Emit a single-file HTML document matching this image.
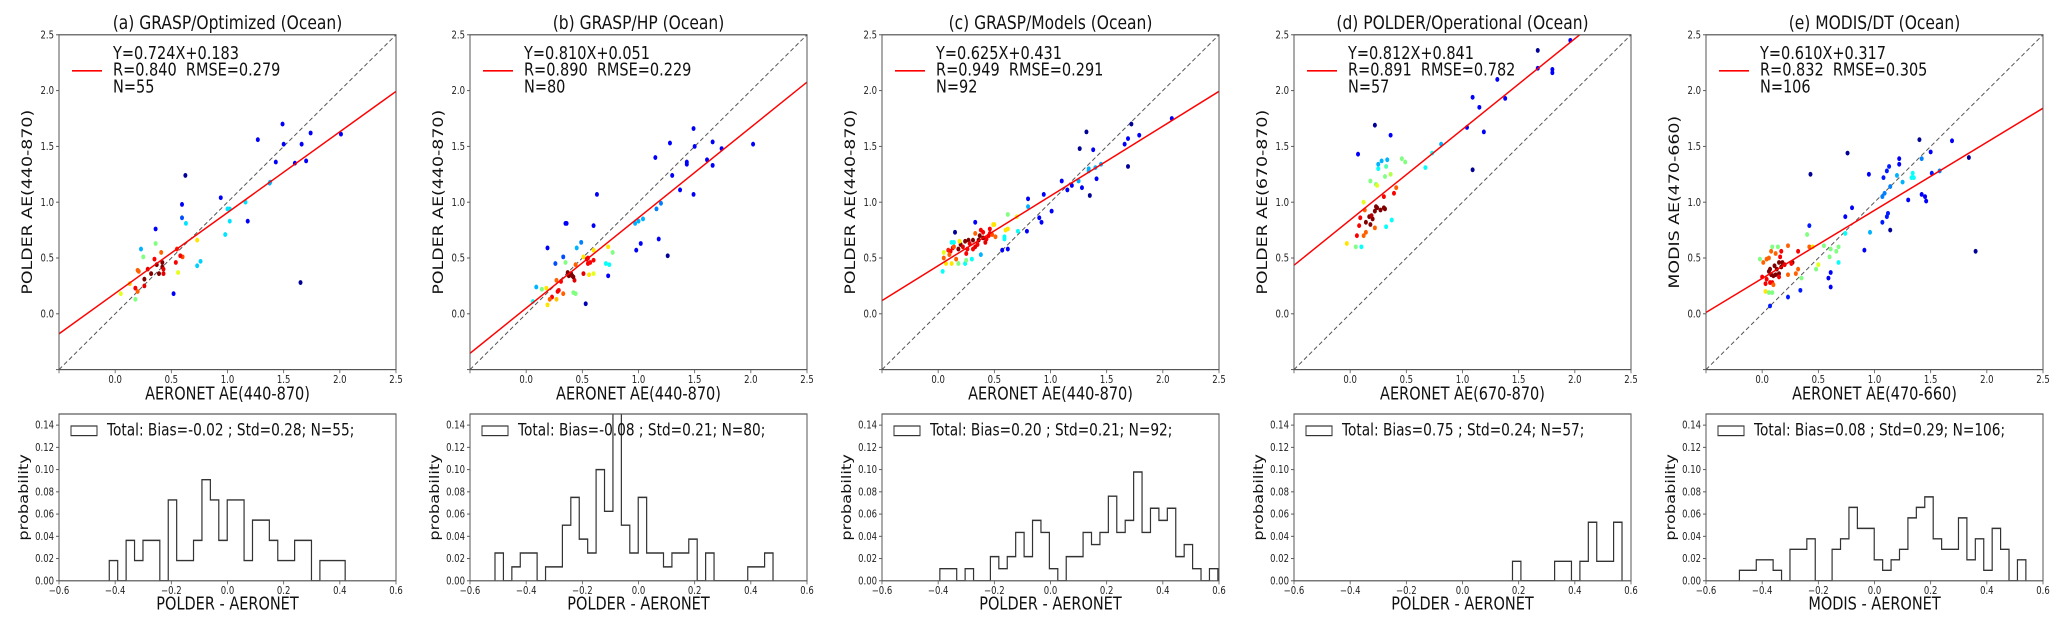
<!DOCTYPE html>
<html><head><meta charset="utf-8"><style>
html,body{margin:0;padding:0;background:#fff;}
svg{display:block;font-family:"DejaVu Sans","Liberation Sans",sans-serif;}
text{white-space:pre;}
</style></head><body>
<svg id="fig" width="2067" height="628" viewBox="0 0 2067 628" xmlns="http://www.w3.org/2000/svg"><g id="root" transform="scale(1,1.2)"></g></svg>
<script>
// ---------- data ----------
const panelTitles=["(a) GRASP/Optimized (Ocean)","(b) GRASP/HP (Ocean)","(c) GRASP/Models (Ocean)","(d) POLDER/Operational (Ocean)","(e) MODIS/DT (Ocean)"];
const xLabels=["AERONET AE(440-870)","AERONET AE(440-870)","AERONET AE(440-870)","AERONET AE(670-870)","AERONET AE(470-660)"];
const yLabels=["POLDER AE(440-870)","POLDER AE(440-870)","POLDER AE(440-870)","POLDER AE(670-870)","MODIS AE(470-660)"];
const histXLabels=["POLDER - AERONET","POLDER - AERONET","POLDER - AERONET","POLDER - AERONET","MODIS - AERONET"];
const slopes=[0.724,0.810,0.625,0.812,0.610];
const intercepts=[0.183,0.051,0.431,0.841,0.317];
const statR=["0.840","0.890","0.949","0.891","0.832"];
const statRMSE=["0.279","0.229","0.291","0.782","0.305"];
const statN=[55,80,92,57,106];
const histBias=["-0.02","-0.08","0.20","0.75","0.08"];
const histStd=["0.28","0.21","0.21","0.24","0.29"];
const scatterTicks=[0.0,0.5,1.0,1.5,2.0,2.5];
const histYTicks=[0.00,0.02,0.04,0.06,0.08,0.10,0.12,0.14];
const histXTicks=[-0.6,-0.4,-0.2,0.0,0.2,0.4,0.6];
const binWidth=0.03;
const histStarts=[-0.421,-0.511,-0.394,0.178,-0.481];
const histCountsA=[1,0,2,1,2,2,0,4,1,1,2,5,4,2,4,4,1,3,3,2,1,1,2,2,0,1,1,1];
const histCountsB=[2,0,1,2,2,0,1,1,4,6,3,2,8,5,13,4,2,6,2,2,1,2,2,3,0,2,0,0,0,0,1,1,2];
const histCountsC=[1,1,0,1,0,0,2,1,2,4,2,5,4,1,0,2,2,4,3,4,7,4,5,9,4,6,5,6,2,3,1,0,1];
const histCountsD=[1,0,0,0,0,1,1,0,1,3,1,1,3];
const histCountsE=[1,1,2,2,1,0,3,3,4,0,0,3,4,7,5,5,2,1,2,3,6,7,8,4,3,3,6,2,4,1,5,3,0,2];
// [x, y, colour (0=navy .. 1=darkred, jet)]
const scatterA=[[1.49,1.70,0.12],[1.27,1.56,0.12],[1.50,1.52,0.12],[1.66,1.52,0.12],[1.74,1.62,0.12],[2.01,1.61,0.12],[1.43,1.36,0.12],[1.60,1.35,0.12],[1.70,1.37,0.12],[1.375,1.17,0.3],[0.625,1.24,0.02],[0.94,1.04,0.12],[0.595,0.98,0.12],[0.595,0.86,0.2],[0.36,0.76,0.12],[1.0,0.94,0.35],[1.16,1.0,0.35],[1.02,0.83,0.35],[1.18,0.83,0.12],[0.98,0.71,0.35],[0.63,0.81,0.35],[1.65,0.28,0.02],[0.52,0.18,0.12],[0.73,0.43,0.33],[0.76,0.47,0.33],[0.73,0.66,0.65],[0.23,0.58,0.3],[0.36,0.63,0.5],[0.25,0.51,0.5],[0.56,0.37,0.6],[0.41,0.55,0.78],[0.35,0.49,0.88],[0.60,0.51,0.8],[0.58,0.52,0.88],[0.54,0.46,0.88],[0.37,0.44,1.0],[0.42,0.46,1.0],[0.42,0.42,1.0],[0.43,0.40,0.9],[0.43,0.36,0.9],[0.39,0.36,1.0],[0.32,0.36,1.0],[0.29,0.40,0.9],[0.26,0.31,1.0],[0.26,0.25,0.9],[0.21,0.38,0.78],[0.20,0.39,0.78],[0.18,0.23,0.88],[0.20,0.20,0.78],[0.13,0.27,0.68],[0.05,0.18,0.6],[0.18,0.13,0.5],[0.55,0.58,0.85],[1.02,0.94,0.35],[1.38,1.18,0.3]];
const scatterB=[[1.49,1.66,0.12],[1.28,1.53,0.12],[1.50,1.50,0.12],[1.66,1.54,0.12],[1.74,1.48,0.12],[2.02,1.52,0.12],[1.15,1.40,0.12],[1.43,1.36,0.12],[1.43,1.34,0.12],[1.61,1.38,0.12],[1.66,1.33,0.12],[1.30,1.24,0.12],[1.37,1.11,0.12],[1.49,1.07,0.12],[0.63,1.07,0.12],[1.20,0.99,0.25],[1.16,0.94,0.25],[1.04,0.85,0.3],[1.0,0.83,0.3],[0.97,0.81,0.3],[0.60,0.79,0.12],[0.35,0.81,0.12],[0.36,0.81,0.12],[0.19,0.59,0.12],[1.18,0.67,0.12],[1.02,0.63,0.12],[0.98,0.57,0.12],[1.26,0.52,0.02],[0.49,0.64,0.25],[0.45,0.59,0.3],[0.33,0.51,0.2],[0.26,0.45,0.2],[0.35,0.46,0.5],[0.60,0.57,0.65],[0.73,0.60,0.65],[0.77,0.55,0.5],[0.71,0.45,0.38],[0.74,0.44,0.38],[0.73,0.34,0.12],[0.53,0.09,0.05],[0.60,0.36,0.6],[0.56,0.35,0.65],[0.51,0.36,0.9],[0.60,0.48,0.88],[0.55,0.45,0.88],[0.57,0.46,0.88],[0.55,0.50,0.88],[0.51,0.51,0.65],[0.44,0.44,0.78],[0.39,0.35,1.0],[0.41,0.34,1.0],[0.43,0.30,0.9],[0.38,0.34,1.0],[0.40,0.36,1.0],[0.37,0.37,1.0],[0.31,0.29,0.88],[0.27,0.30,0.78],[0.28,0.20,0.88],[0.29,0.21,0.88],[0.33,0.18,0.78],[0.23,0.15,0.88],[0.21,0.13,0.78],[0.27,0.13,0.68],[0.19,0.08,0.65],[0.18,0.23,0.65],[0.14,0.22,0.5],[0.09,0.24,0.3],[0.06,0.11,0.38],[0.42,0.19,0.5],[0.44,0.18,0.5],[0.54,0.49,0.9],[0.42,0.33,1.0]];
const scatterC=[[1.32,1.63,0.02],[1.26,1.48,0.02],[1.38,1.47,0.12],[1.72,1.70,0.02],[1.69,1.57,0.12],[1.66,1.52,0.12],[1.79,1.60,0.12],[2.08,1.75,0.12],[1.69,1.32,0.02],[1.45,1.34,0.3],[1.40,1.31,0.3],[1.34,1.30,0.3],[1.34,1.28,0.3],[1.41,1.21,0.12],[1.25,1.19,0.3],[1.19,1.15,0.12],[1.15,1.11,0.12],[1.10,1.19,0.12],[1.28,1.13,0.12],[1.35,1.06,0.02],[0.94,1.07,0.12],[0.80,1.03,0.12],[1.01,0.92,0.12],[0.80,0.96,0.3],[0.90,0.86,0.12],[0.92,0.82,0.12],[0.79,0.74,0.12],[0.71,0.74,0.38],[0.62,0.89,0.5],[0.70,0.87,0.6],[0.62,0.76,0.65],[0.60,0.75,0.65],[0.59,0.69,0.38],[0.59,0.67,0.38],[0.57,0.57,0.12],[0.62,0.58,0.12],[0.33,0.82,0.12],[0.15,0.73,0.02],[0.38,0.53,0.3],[0.49,0.80,0.65],[0.50,0.80,0.65],[0.51,0.69,0.78],[0.46,0.76,0.88],[0.46,0.72,0.88],[0.43,0.67,0.88],[0.38,0.75,0.88],[0.37,0.70,1.0],[0.40,0.68,1.0],[0.36,0.66,1.0],[0.33,0.72,0.78],[0.31,0.66,1.0],[0.31,0.58,0.88],[0.27,0.66,1.0],[0.24,0.65,1.0],[0.25,0.54,0.88],[0.20,0.62,1.0],[0.18,0.58,1.0],[0.13,0.59,0.88],[0.11,0.56,0.88],[0.12,0.64,0.38],[0.14,0.64,0.38],[0.19,0.65,0.65],[0.10,0.53,0.78],[0.05,0.50,0.78],[0.05,0.55,0.6],[0.07,0.45,0.65],[0.12,0.45,0.65],[0.16,0.49,0.78],[0.24,0.45,0.38],[0.25,0.48,0.5],[0.18,0.45,0.5],[0.30,0.49,0.38],[0.04,0.38,0.38],[0.28,0.63,0.9],[0.35,0.62,0.88],[0.42,0.64,0.9],[0.45,0.70,0.88],[0.22,0.60,0.9],[0.26,0.58,0.88],[0.33,0.60,0.9],[0.09,0.57,0.85],[0.14,0.60,0.8],[0.40,0.73,0.88],[0.48,0.71,0.8]];
const scatterD=[[1.96,2.45,0.12],[1.67,2.36,0.02],[1.67,2.20,0.12],[1.80,2.19,0.12],[1.80,2.16,0.12],[1.31,2.10,0.12],[1.09,1.94,0.12],[1.38,1.93,0.12],[1.15,1.85,0.12],[1.04,1.67,0.12],[1.19,1.63,0.12],[1.09,1.29,0.02],[0.22,1.69,0.02],[0.36,1.60,0.12],[0.07,1.43,0.12],[0.81,1.52,0.3],[0.73,1.44,0.38],[0.67,1.31,0.38],[0.46,1.39,0.5],[0.49,1.36,0.5],[0.33,1.38,0.3],[0.28,1.37,0.3],[0.25,1.34,0.3],[0.25,1.30,0.38],[0.32,1.32,0.45],[0.31,1.23,0.5],[0.36,1.25,0.55],[0.18,1.19,0.5],[0.23,1.16,0.5],[0.24,1.15,0.6],[0.41,1.13,0.78],[0.39,1.08,0.88],[0.30,1.05,0.88],[0.12,1.0,0.6],[0.13,0.93,0.78],[0.24,0.95,1.0],[0.22,0.92,1.0],[0.30,0.95,1.0],[0.31,0.94,1.0],[0.17,0.87,1.0],[0.20,0.85,1.0],[0.09,0.86,0.88],[0.14,0.82,1.0],[0.18,0.80,1.0],[0.08,0.79,0.88],[0.37,0.84,0.38],[0.32,0.78,0.38],[0.22,0.77,0.78],[0.14,0.73,0.78],[0.12,0.70,0.78],[0.06,0.70,0.88],[-0.03,0.63,0.65],[0.05,0.60,0.5],[0.10,0.60,0.38],[0.23,0.96,1.0],[0.19,0.88,0.95],[0.27,0.93,1.0]];
const scatterE=[[1.40,1.56,0.02],[1.69,1.55,0.12],[1.50,1.45,0.12],[1.42,1.39,0.25],[1.84,1.40,0.02],[0.76,1.44,0.02],[0.43,1.25,0.02],[0.95,1.25,0.12],[1.22,1.39,0.12],[1.22,1.34,0.12],[1.13,1.32,0.15],[1.11,1.28,0.15],[1.08,1.22,0.15],[1.20,1.24,0.3],[1.25,1.18,0.3],[1.33,1.22,0.38],[1.34,1.26,0.38],[1.35,1.22,0.38],[1.51,1.26,0.15],[1.58,1.28,0.25],[1.14,1.14,0.25],[1.09,1.08,0.25],[1.07,1.05,0.25],[1.30,1.02,0.12],[1.42,1.07,0.12],[1.45,1.05,0.12],[1.46,1.01,0.12],[0.80,0.95,0.12],[0.74,0.87,0.12],[1.12,0.90,0.15],[1.11,0.87,0.15],[1.07,0.82,0.15],[1.14,0.75,0.02],[0.96,0.73,0.3],[0.74,0.72,0.38],[0.91,0.57,0.12],[1.90,0.56,0.02],[0.42,0.79,0.15],[0.68,0.46,0.38],[0.66,0.56,0.5],[0.68,0.60,0.5],[0.61,0.58,0.5],[0.60,0.51,0.5],[0.61,0.37,0.12],[0.59,0.32,0.12],[0.61,0.24,0.12],[0.34,0.21,0.15],[0.23,0.15,0.15],[0.07,0.07,0.15],[0.55,0.61,0.5],[0.50,0.44,0.6],[0.48,0.40,0.5],[0.35,0.32,0.5],[0.40,0.71,0.5],[0.42,0.60,0.78],[0.45,0.60,0.65],[0.32,0.56,0.88],[0.23,0.61,0.78],[0.32,0.40,0.78],[0.30,0.36,0.78],[0.27,0.46,1.0],[0.26,0.45,0.88],[0.23,0.35,0.78],[0.18,0.46,1.0],[0.15,0.46,1.0],[0.16,0.51,0.88],[0.17,0.56,0.88],[0.14,0.60,0.5],[0.09,0.60,0.5],[0.12,0.54,0.78],[0.08,0.56,0.78],[0.06,0.50,0.78],[0.04,0.49,0.78],[0.01,0.46,0.78],[-0.02,0.49,0.5],[0.07,0.40,1.0],[0.06,0.38,1.0],[0.13,0.40,1.0],[0.15,0.36,1.0],[0.12,0.35,1.0],[0.15,0.33,0.88],[0.10,0.34,1.0],[0.08,0.35,1.0],[0.04,0.31,0.88],[0.00,0.33,0.88],[0.03,0.27,0.88],[0.07,0.28,0.88],[0.09,0.28,0.88],[0.10,0.26,0.78],[0.03,0.20,0.65],[0.06,0.19,0.5],[0.09,0.19,0.5],[0.17,0.42,1.0],[0.20,0.44,0.9],[0.11,0.43,1.0]];

const scatterSets=[scatterA,scatterB,scatterC,scatterD,scatterE];
const histSets=[histCountsA,histCountsB,histCountsC,histCountsD,histCountsE];

// ---------- layout (drawn in a 523-high space, stretched 1.2x vertically) ----------
const panelLefts=[59,470,882,1294,1706];
const AX_W=337, SC_TOP=29, SC_BOT=308, H_TOP=345, H_BOT=484;
const NS="http://www.w3.org/2000/svg";
const svg=document.getElementById('root');
function mk(tag,attrs,parent){const e=document.createElementNS(NS,tag);for(const k in attrs)e.setAttribute(k,attrs[k]);(parent||svg).appendChild(e);return e;}
function jet(c){const cl=v=>Math.max(0,Math.min(1,v));return `rgb(${Math.round(255*cl(1.5-Math.abs(4*c-3)))},${Math.round(255*cl(1.5-Math.abs(4*c-2)))},${Math.round(255*cl(1.5-Math.abs(4*c-1)))})`;}
const AXC="#555";

panelLefts.forEach((L,i)=>{
  const g=mk('g',{});
  
  
  const sx=v=>L+(v+0.5)/3*AX_W;
  const sy=v=>SC_BOT-(v+0.5)/3*(SC_BOT-SC_TOP);
  const clipId='clipS'+i;
  const cp=mk('clipPath',{id:clipId},g);mk('rect',{x:L,y:SC_TOP,width:AX_W,height:SC_BOT-SC_TOP},cp);

  const t=mk('text',{x:L+AX_W/2,y:24,'text-anchor':'middle','font-size':15.5,fill:'#111'},g);t.textContent=panelTitles[i];
  

  const oneone=mk('line',{x1:sx(-0.5),y1:sy(-0.5),x2:sx(2.5),y2:sy(2.5),stroke:'#555','stroke-width':0.9,'stroke-dasharray':'4,2.5','clip-path':`url(#${clipId})`},g);
  
  scatterSets[i].forEach(p=>{
    const c=mk('circle',{cx:sx(p[0]),cy:sy(p[1]),r:2,fill:jet(p[2]),'clip-path':`url(#${clipId})`},g);
    
    
  });
  const rl=mk('line',{x1:sx(-0.5),y1:sy(slopes[i]*-0.5+intercepts[i]),x2:sx(2.5),y2:sy(slopes[i]*2.5+intercepts[i]),stroke:'#f00','stroke-width':1.3,'clip-path':`url(#${clipId})`},g);
  
  const fr=mk('rect',{x:L,y:SC_TOP,width:AX_W,height:SC_BOT-SC_TOP,fill:'none',stroke:AXC,'stroke-width':1},g);
  
  [-0.5].concat(scatterTicks).forEach(v=>{
    mk('line',{x1:sx(v),y1:SC_BOT,x2:sx(v),y2:SC_BOT+3,stroke:AXC,'stroke-width':0.8},g);
    mk('line',{x1:L,y1:sy(v),x2:L-3,y2:sy(v),stroke:AXC,'stroke-width':0.8},g);
  });
  scatterTicks.forEach(v=>{
    const a=mk('text',{x:sx(v),y:SC_BOT+11,'text-anchor':'middle','font-size':8.5,fill:'#222'},g);a.textContent=v.toFixed(1);
    
    const b=mk('text',{x:L-5,y:sy(v)+3,'text-anchor':'end','font-size':8.5,fill:'#222'},g);b.textContent=v.toFixed(1);
    
  });
  const xl=mk('text',{x:L+AX_W/2,y:333,'text-anchor':'middle','font-size':14.5,fill:'#111'},g);xl.textContent=xLabels[i];
  
  const yl=mk('text',{x:0,y:0,'text-anchor':'middle','font-size':14.5,fill:'#111',transform:`translate(${L-27},${(SC_TOP+SC_BOT)/2}) rotate(-90)`},g);yl.textContent=yLabels[i];
  
  const ll=mk('line',{x1:L+13,y1:59,x2:L+43,y2:59,stroke:'#f00','stroke-width':1.3},g);
  
  const lines=[`Y=${slopes[i].toFixed(3)}X+${intercepts[i].toFixed(3)}`,`R=${statR[i]}  RMSE=${statRMSE[i]}`,`N=${statN[i]}`];
  lines.forEach((s,k)=>{const tx=mk('text',{x:L+54,y:49+k*14,'font-size':14.5,fill:'#111','xml:space':'preserve'},g);tx.textContent=s;
    });

  // ---------- histogram ----------
  const hx=v=>L+(v+0.6)/1.2*AX_W;
  const hy=v=>H_BOT-v/0.15*(H_BOT-H_TOP);
  const cpH='clipH'+i;
  const cp2=mk('clipPath',{id:cpH},g);mk('rect',{x:L,y:H_TOP,width:AX_W,height:H_BOT-H_TOP},cp2);
  const counts=histSets[i],N=statN[i],x0=histStarts[i];
  let d=`M${hx(x0)},${hy(0)}`;
  counts.forEach((c,k)=>{const p=c/N;d+=` L${hx(x0+k*binWidth)},${hy(p)} L${hx(x0+(k+1)*binWidth)},${hy(p)}`;});
  d+=` L${hx(x0+counts.length*binWidth)},${hy(0)}`;
  const hp=mk('path',{d:d,fill:'none',stroke:'#333','stroke-width':1.2,'clip-path':`url(#${cpH})`},g);
  
  const hf=mk('rect',{x:L,y:H_TOP,width:AX_W,height:H_BOT-H_TOP,fill:'none',stroke:AXC,'stroke-width':1},g);
  
  histYTicks.forEach(v=>{
    mk('line',{x1:L,y1:hy(v),x2:L-3,y2:hy(v),stroke:AXC,'stroke-width':0.8},g);
    const a=mk('text',{x:L-5,y:hy(v)+3,'text-anchor':'end','font-size':8.5,fill:'#222'},g);a.textContent=v.toFixed(2);
    
  });
  histXTicks.forEach(v=>{
    mk('line',{x1:hx(v),y1:H_BOT,x2:hx(v),y2:H_BOT+3,stroke:AXC,'stroke-width':0.8},g);
    const a=mk('text',{x:hx(v),y:H_BOT+11,'text-anchor':'middle','font-size':8.5,fill:'#222'},g);a.textContent=(v<0?'\u2212':'')+Math.abs(v).toFixed(1);
    
  });
  const hxl=mk('text',{x:L+AX_W/2,y:508,'text-anchor':'middle','font-size':14.5,fill:'#111'},g);hxl.textContent=histXLabels[i];
  
  const hyl=mk('text',{x:0,y:0,'text-anchor':'middle','font-size':13.5,fill:'#111',transform:`translate(${L-31},${(H_TOP+H_BOT)/2}) rotate(-90)`},g);hyl.textContent='probability';
  
  const lb=mk('rect',{x:L+12,y:355,width:26,height:8,fill:'none',stroke:'#333','stroke-width':1},g);
  
  const lt=mk('text',{x:L+48,y:363,'font-size':13.7,fill:'#111','xml:space':'preserve'},g);
  lt.textContent=`Total: Bias=${histBias[i]} ; Std=${histStd[i]}; N=${N};`;
  
});
</script>
</body></html>
